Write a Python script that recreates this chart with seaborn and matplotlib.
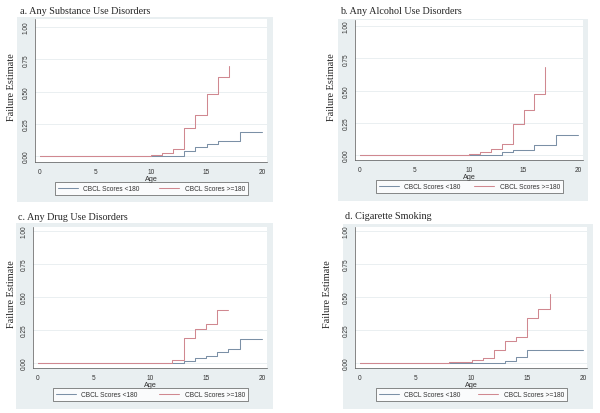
import matplotlib
matplotlib.use("Agg")
import matplotlib.pyplot as plt
from matplotlib.patches import Rectangle
from matplotlib.lines import Line2D
import seaborn as sns
import pandas as pd

# Kaplan-Meier failure estimates
low_label = "CBCL Scores <180"
high_label = "CBCL Scores >=180"

titles = ["a. Any Substance Use Disorders", "b. Any Alcohol Use Disorders",
          "c. Any Drug Use Disorders", "d. Cigarette Smoking"]

a_low_age = [0, 13, 14, 15, 16, 18, 20]
a_low_est = [0, 0.04, 0.07, 0.095, 0.115, 0.185, 0.185]
a_high_age = [0, 10, 11, 12, 13, 14, 15, 16, 17]
a_high_est = [0, 0.01, 0.025, 0.055, 0.22, 0.32, 0.48, 0.61, 0.70]

b_low_age = [0, 13, 14, 16, 18, 20]
b_low_est = [0, 0.02, 0.04, 0.075, 0.155, 0.155]
b_high_age = [0, 10, 11, 12, 13, 14, 15, 16, 17]
b_high_est = [0, 0.008, 0.02, 0.05, 0.085, 0.24, 0.345, 0.475, 0.68]

c_low_age = [0, 13, 14, 15, 16, 17, 18, 20]
c_low_est = [0, 0.015, 0.035, 0.055, 0.08, 0.105, 0.18, 0.18]
c_high_age = [0, 12, 13, 14, 15, 16, 17]
c_high_est = [0, 0.025, 0.187, 0.258, 0.295, 0.40, 0.40]

d_low_age = [0, 13, 14, 15, 20]
d_low_est = [0, 0.018, 0.043, 0.095, 0.095]
d_high_age = [0, 8, 10, 11, 12, 13, 14, 15, 16, 17]
d_high_est = [0, 0.01, 0.02, 0.038, 0.098, 0.17, 0.20, 0.343, 0.41, 0.52]

x_ticks = [0, 5, 10, 15, 20]
y_ticks = [0, 0.25, 0.5, 0.75, 1.0]
y_ticklabels = ["0.00", "0.25", "0.50", "0.75", "1.00"]

low_color = "#7b90a6"
high_color = "#d08890"
bg_color = "#e9eff1"

W, H = 600, 414

# layout in pixels: plot rect (l, t, r, b), tick pixel refs (x0, x20, y0, y1),
# grey region, legend box, title pos, ylabel x
layout = [
    dict(rect=(35, 20, 267, 163), ref=(40, 262, 157, 28), bg=(17, 18, 273, 203),
         leg=(55, 182, 248, 197), title=(20, 12), ylab=12),
    dict(rect=(355, 21, 583, 161), ref=(360, 578, 156, 27), bg=(338, 20, 588, 202),
         leg=(376, 181, 563, 194), title=(340, 12), ylab=332),
    dict(rect=(33, 228, 267, 369), ref=(38, 262, 364, 232), bg=(16, 224, 273, 410),
         leg=(53, 389, 248, 402), title=(18, 218), ylab=12),
    dict(rect=(355, 228, 587, 369), ref=(360, 583, 364, 232), bg=(343, 225, 593, 410),
         leg=(376, 389, 567, 402), title=(345, 217), ylab=328),
]

series = [
    (a_low_age, a_low_est, a_high_age, a_high_est),
    (b_low_age, b_low_est, b_high_age, b_high_est),
    (c_low_age, c_low_est, c_high_age, c_high_est),
    (d_low_age, d_low_est, d_high_age, d_high_est),
]

sns.set_style("white")
plt.rcParams["font.family"] = ["Liberation Sans", "DejaVu Sans"]

fig = plt.figure(figsize=(6, 4.14), dpi=100)


def fx(px):
    return px / W


def fy(py):
    return 1 - py / H


for i, (lay, (la, le, ha, he)) in enumerate(zip(layout, series)):
    # grey graph region, drawn behind the axes
    bl, bt, br, bb = lay["bg"]
    fig.patches.append(Rectangle((fx(bl), fy(bb)), fx(br - bl), (bb - bt) / H,
                                 transform=fig.transFigure, facecolor=bg_color,
                                 edgecolor="none", zorder=-10))
    l, t, r, b = lay["rect"]
    ax = fig.add_axes([fx(l), fy(b), fx(r - l), (b - t) / H])
    ax.set_zorder(1)
    ax.set_facecolor("white")

    df = pd.DataFrame({
        "age": list(la) + list(ha),
        "est": list(le) + list(he),
        "group": [low_label] * len(la) + [high_label] * len(ha),
    })
    sns.lineplot(data=df, x="age", y="est", hue="group",
                 palette={low_label: low_color, high_label: high_color},
                 estimator=None, sort=False, drawstyle="steps-post",
                 linewidth=0.75, legend=False, ax=ax)

    # axis limits from pixel references
    x0, x20, y0, y1 = lay["ref"]
    sx = (x20 - x0) / 20
    sy = (y0 - y1) / 1.0
    ax.set_xlim((l - x0) / sx, (r - x0) / sx)
    ax.set_ylim((y0 - b) / sy, (y0 - t) / sy)

    ax.set_xticks(x_ticks)
    ax.set_yticks(y_ticks)
    ax.set_yticklabels(y_ticklabels, rotation=90, va="center")
    ax.tick_params(axis="both", labelsize=4.7, length=2.5, width=0.5,
                   direction="out", colors="#666666", labelcolor="#333333",
                   pad=1.5)
    ax.yaxis.grid(True, color="#e6ecef", linewidth=0.6)
    ax.xaxis.grid(False)
    for side in ["top", "right"]:
        ax.spines[side].set_visible(False)
    for side in ["left", "bottom"]:
        ax.spines[side].set_linewidth(0.5)
        ax.spines[side].set_color("#555555")
    ax.set_xlabel("Age", fontsize=5.2, labelpad=0.5, color="#333333")
    ax.set_ylabel("")

    fig.text(fx(lay["ylab"]), fy((t + b) / 2 - 4), "Failure Estimate",
             rotation=90, ha="center", va="center", fontsize=7.4,
             family=["Liberation Serif", "DejaVu Serif"])
    tx, ty = lay["title"]
    fig.text(fx(tx), fy(ty), titles[i], ha="left", va="center", fontsize=7.3,
             family=["Liberation Serif", "DejaVu Serif"])

    ll, lt, lr, lb = lay["leg"]
    handles = [Line2D([], [], color=low_color, linewidth=0.75),
               Line2D([], [], color=high_color, linewidth=0.75)]
    leg = ax.legend(handles, [low_label, high_label], loc="center",
                    bbox_to_anchor=(fx(ll), fy(lb), fx(lr - ll), (lb - lt) / H),
                    bbox_transform=fig.transFigure, mode="expand", ncol=2,
                    fontsize=4.8, handlelength=3.0, handletextpad=0.8,
                    columnspacing=1.5, borderpad=0.45, borderaxespad=0,
                    frameon=True, fancybox=False)
    leg.get_frame().set_edgecolor("#333333")
    leg.get_frame().set_linewidth(0.5)
    leg.get_frame().set_facecolor("white")
    for txt in leg.get_texts():
        txt.set_color("#333333")

fig.savefig("out.png", dpi=100, facecolor="white")
